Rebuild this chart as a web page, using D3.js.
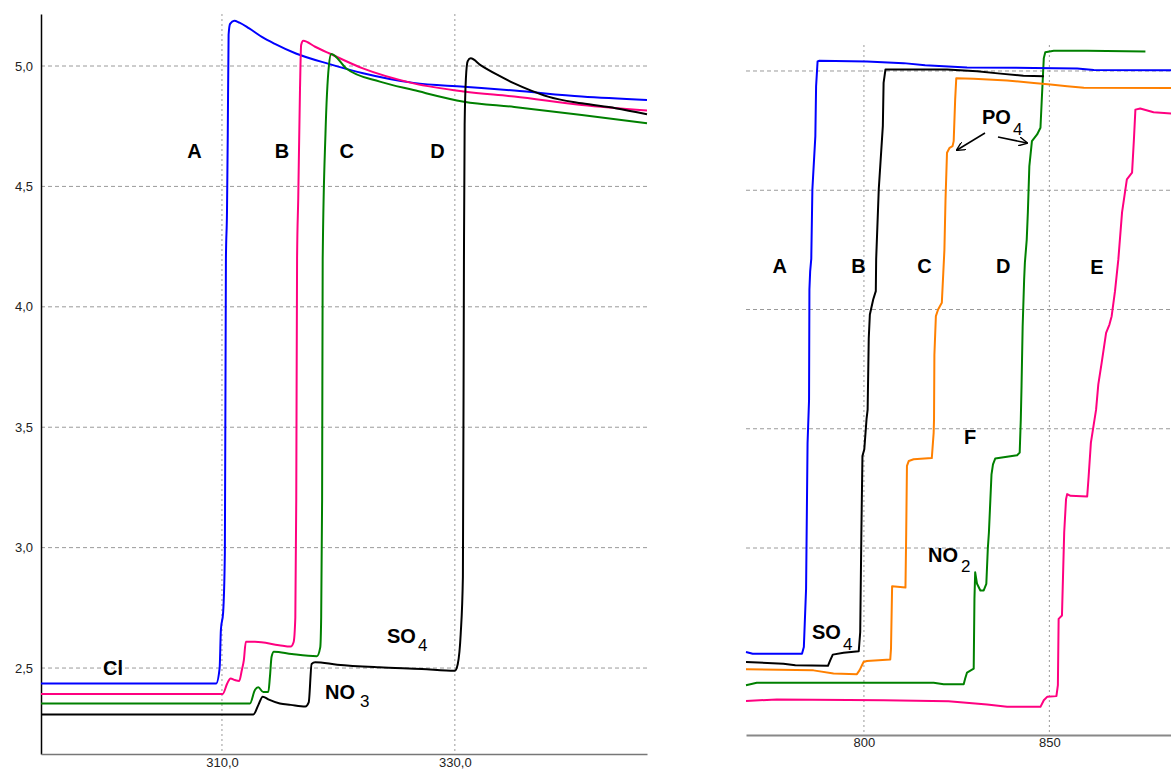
<!DOCTYPE html>
<html>
<head>
<meta charset="utf-8">
<script src="https://cdn.jsdelivr.net/npm/d3@7/dist/d3.min.js"></script>
<style>
  html, body { margin: 0; padding: 0; background: #fff; }
  svg { display: block; }
  .tick text { font-family: "Liberation Sans", Arial, sans-serif; font-size: 13px; fill: #222; }
  .lbl { font-family: "Liberation Sans", Arial, sans-serif; font-weight: bold; font-size: 20px; fill: #000; }
  .sub { font-family: "Liberation Sans", Arial, sans-serif; font-size: 17px; fill: #000; }
</style>
</head>
<body>
<svg id="chart" width="1171" height="769"></svg>
<script>
// ---------- Left panel data ----------
const leftYTicks = [2.5, 3.0, 3.5, 4.0, 4.5, 5.0];
const leftXTicks = [310, 330];
const leftA = [[294.46,2.436],[309.5,2.436],[309.8,2.50],[309.91,2.66],[310.1,2.73],[310.25,2.98],[310.34,4.2],[310.43,4.39],[310.5,4.72],[310.57,5.13],[310.7,5.175],[311.05,5.188],[311.5,5.18],[312.34,5.156],[313.46,5.12],[314.5,5.093],[316.35,5.052],[319.24,5.008],[322.12,4.97],[326.45,4.93],[330.78,4.914],[335.1,4.898],[340.9,4.873],[346.5,4.859]];
const leftB = [[294.46,2.392],[310.06,2.392],[310.45,2.436],[310.74,2.457],[311.11,2.45],[311.48,2.446],[311.7,2.49],[311.88,2.533],[312.05,2.609],[312.83,2.609],[314.9,2.595],[315.9,2.589],[316.15,2.607],[316.3,2.71],[316.38,3.2],[316.45,4.2],[316.55,4.45],[316.7,4.9],[316.8,5.087],[316.98,5.105],[318.0,5.08],[319.24,5.052],[322.1,4.99],[326.45,4.928],[330.78,4.894],[335.1,4.873],[340.9,4.838],[346.5,4.815]];
const leftC = [[294.46,2.353],[312.4,2.353],[312.83,2.409],[313.12,2.42],[313.55,2.40],[313.98,2.40],[314.12,2.464],[314.26,2.547],[314.46,2.568],[316.0,2.558],[318.15,2.549],[318.44,2.586],[318.52,2.711],[318.6,3.2],[318.65,4.196],[318.89,4.72],[319.18,5.0],[319.38,5.05],[320.68,4.99],[323.56,4.935],[326.45,4.9],[330.78,4.852],[335.1,4.83],[340.9,4.797],[346.5,4.762]];
const leftD = [[294.46,2.307],[312.7,2.307],[313.12,2.346],[313.5,2.381],[313.98,2.37],[314.97,2.353],[315.9,2.347],[317.16,2.34],[317.45,2.357],[317.7,2.517],[318.0,2.524],[319.9,2.514],[323.5,2.503],[327.16,2.496],[330.0,2.489],[330.25,2.517],[330.5,2.64],[330.69,2.878],[330.78,4.196],[330.84,4.755],[330.95,4.95],[331.1,5.02],[331.36,5.032],[332.2,5.004],[333.67,4.963],[335.1,4.928],[336.55,4.898],[338.0,4.873],[340.9,4.845],[343.8,4.825],[346.5,4.80]];

// ---------- Right panel data ----------
const rightYGrid = [3.0, 3.5, 4.0, 4.5, 5.0];
const rightXTicks = [800, 850];
const rightA = [[768.2,2.564],[770,2.557],[783.3,2.557],[783.8,2.585],[784.4,2.829],[784.8,3.44],[785.2,3.62],[785.3,4.084],[785.5,4.16],[785.8,4.212],[786.1,4.504],[786.9,4.727],[787.1,4.936],[787.5,5.04],[788,5.043],[800.8,5.04],[810.7,5.033],[816.5,5.024],[827.8,5.015],[845.8,5.013],[857.5,5.01],[862,5.004],[882.9,5.003]];
const rightB = [[768.2,2.522],[778.3,2.515],[781.5,2.508],[790.3,2.506],[790.9,2.529],[791.6,2.553],[794.5,2.561],[798.6,2.567],[799.0,2.648],[799.3,3.052],[799.6,3.386],[800.1,3.414],[800.7,3.54],[801.0,3.58],[801.3,3.88],[801.6,3.979],[802.5,4.042],[803.2,4.077],[803.3,4.212],[804.0,4.504],[805.1,4.77],[805.3,4.95],[805.8,5.006],[822.4,5.006],[830.5,4.999],[836.8,4.989],[843,4.98],[848.5,4.978]];
const rightC = [[768.2,2.492],[786.4,2.487],[791.8,2.474],[798.1,2.471],[798.8,2.487],[799.9,2.522],[800.8,2.526],[807.1,2.533],[807.3,2.578],[807.6,2.84],[811.2,2.834],[811.4,3.065],[811.6,3.344],[812.1,3.365],[813.4,3.372],[818.3,3.377],[818.8,3.483],[818.9,3.54],[819.0,3.81],[819.4,3.972],[820,4.0],[821,4.028],[821.4,4.154],[821.7,4.25],[822,4.462],[822.4,4.657],[823.1,4.678],[823.9,4.685],[824.2,4.706],[824.6,4.88],[824.9,4.97],[829.6,4.967],[838.6,4.96],[845.8,4.95],[850.3,4.943],[854.8,4.936],[859.3,4.93],[882.9,4.929]];
const rightD = [[768.2,2.425],[771.1,2.435],[818.8,2.435],[821.5,2.429],[826.9,2.429],[827.3,2.453],[827.8,2.478],[829.6,2.494],[829.8,2.787],[830,2.898],[830.5,2.85],[831.4,2.822],[832.3,2.822],[833,2.85],[833.4,2.996],[833.7,3.065],[834.1,3.205],[834.4,3.309],[834.8,3.351],[835.4,3.375],[841.3,3.389],[842,3.4],[842.3,3.54],[842.5,3.68],[842.8,3.93],[843.2,4.126],[843.4,4.196],[843.9,4.293],[844.2,4.407],[844.6,4.6],[845.3,4.706],[846.7,4.734],[847.6,4.762],[848,4.894],[848.5,5.054],[848.9,5.079],[851.2,5.085],[860.2,5.085],[875.9,5.082]];
const rightE = [[768.2,2.359],[776.5,2.365],[805.3,2.362],[822.8,2.358],[833.2,2.344],[838.6,2.334],[847.6,2.334],[848.5,2.362],[849.4,2.376],[851.9,2.379],[852.3,2.425],[852.5,2.703],[853.4,2.717],[854,3.065],[854.5,3.205],[854.8,3.226],[855.7,3.219],[860.2,3.216],[860.6,3.302],[861.2,3.442],[861.9,3.511],[862.6,3.58],[863.2,3.686],[864.1,3.776],[865.3,3.902],[866.2,3.937],[866.8,3.972],[867.7,4.077],[868.6,4.21],[869.6,4.407],[870.9,4.546],[872.3,4.574],[872.8,4.713],[873.2,4.838],[874.5,4.843],[878.1,4.827],[882.9,4.822]];

const colors = { blue: "#0000ff", pink: "#ff0080", green: "#008000", black: "#000000", orange: "#ff8000" };

const svg = d3.select("#chart");
const gridColor = "#9a9a9a";

// ---------- Left panel ----------
const xL = d3.scaleLinear().domain([294.46, 346.5]).range([41, 647]);
const yL = d3.scaleLinear().domain([2.143, 5.216]).range([754, 14]);
const gL = svg.append("g");

gL.selectAll("line.hg").data(leftYTicks).join("line")
  .attr("x1", 41).attr("x2", 647)
  .attr("y1", d => yL(d)).attr("y2", d => yL(d))
  .attr("stroke", gridColor).attr("stroke-dasharray", "4,3");
gL.selectAll("line.vg").data(leftXTicks).join("line")
  .attr("x1", d => xL(d)).attr("x2", d => xL(d))
  .attr("y1", 14).attr("y2", 754)
  .attr("stroke", gridColor).attr("stroke-dasharray", "2,3");

const axL = gL.append("g").attr("transform", "translate(41,0)")
  .call(d3.axisLeft(yL).tickValues(leftYTicks).tickSize(0).tickSizeOuter(0).tickPadding(8)
    .tickFormat(d => d.toFixed(1).replace(".", ",")));
axL.select(".domain").attr("stroke", "#000").attr("stroke-width", 1.5);

const axLB = gL.append("g").attr("transform", "translate(0,754)")
  .call(d3.axisBottom(xL).tickValues(leftXTicks).tickSize(0).tickSizeOuter(0).tickPadding(4)
    .tickFormat(d => d.toFixed(1).replace(".", ",")));
axLB.select(".domain").attr("stroke", "#777").attr("stroke-width", 1.5);

const lineL = d3.line().x(d => xL(d[0])).y(d => yL(d[1])).curve(d3.curveMonotoneX);
[[leftA, colors.blue], [leftB, colors.pink], [leftC, colors.green], [leftD, colors.black]].forEach(([data, c]) => {
  gL.append("path").datum(data).attr("d", lineL).attr("fill", "none")
    .attr("stroke", c).attr("stroke-width", 2).attr("stroke-linejoin", "round");
});

// ---------- Right panel ----------
const xR = d3.scaleLinear().domain([768.2, 882.8]).range([746, 1171]);
const yR = d3.scaleLinear().domain([2.216, 5.109]).range([735, 45]);
const gR = svg.append("g");

gR.selectAll("line.hg").data(rightYGrid).join("line")
  .attr("x1", 746).attr("x2", 1171)
  .attr("y1", d => yR(d)).attr("y2", d => yR(d))
  .attr("stroke", gridColor).attr("stroke-dasharray", "4,3");
gR.selectAll("line.vg").data(rightXTicks).join("line")
  .attr("x1", d => xR(d)).attr("x2", d => xR(d))
  .attr("y1", 45).attr("y2", 735)
  .attr("stroke", gridColor).attr("stroke-dasharray", "2,3");

const axRB = gR.append("g").attr("transform", "translate(0,735)")
  .call(d3.axisBottom(xR).tickValues(rightXTicks).tickSize(0).tickSizeOuter(0).tickPadding(3)
    .tickFormat(d => String(d)));
axRB.select(".domain").attr("stroke", "#888").attr("stroke-width", 2);

const lineR = d3.line().x(d => xR(d[0])).y(d => yR(d[1]));
[[rightE, colors.pink], [rightD, colors.green], [rightC, colors.orange], [rightB, colors.black], [rightA, colors.blue]].forEach(([data, c]) => {
  gR.append("path").datum(data).attr("d", lineR).attr("fill", "none")
    .attr("stroke", c).attr("stroke-width", 2).attr("stroke-linejoin", "round");
});

// ---------- Annotations ----------
function label(x, y, t, anchor) {
  svg.append("text").attr("class", "lbl").attr("x", x).attr("y", y)
    .attr("text-anchor", anchor || "middle").text(t);
}
function chem(x, y, main, sub, subDx, subDy) {
  const t = svg.append("text").attr("class", "lbl").attr("x", x).attr("y", y);
  t.append("tspan").text(main);
  t.append("tspan").attr("class", "sub").attr("dx", subDx).attr("dy", subDy)
    .style("font-weight", "normal").style("font-size", "17px").text(sub);
}
// left letters
label(194.5, 158, "A"); label(282, 158, "B"); label(346.7, 158, "C"); label(437.5, 158, "D");
label(103, 675, "Cl", "start");
chem(325, 699, "NO", "3", 5, 8);
chem(387, 643, "SO", "4", 2, 8);
// right letters
label(779.7, 273, "A"); label(858.5, 273, "B"); label(924.5, 273, "C"); label(1003.3, 273, "D"); label(1097, 274, "E");
label(970, 444, "F");
chem(928, 562, "NO", "2", 3, 10);
chem(812, 639, "SO", "4", 2, 11);
chem(982, 124, "PO", "4", 2, 11);

// PO4 arrows
const defs = svg.append("defs");
defs.append("marker").attr("id", "arr").attr("viewBox", "0 0 10 10").attr("refX", 9).attr("refY", 5)
  .attr("markerWidth", 9).attr("markerHeight", 9).attr("orient", "auto").attr("markerUnits", "userSpaceOnUse")
  .append("path").attr("d", "M0,0 L10,5 L0,10").attr("fill", "none").attr("stroke", "#000").attr("stroke-width", 1.5);
const arrows = [[985, 133, 957, 150], [998, 137, 1027, 143]];
svg.selectAll("line.arrow").data(arrows).join("line")
  .attr("x1", d => d[0]).attr("y1", d => d[1]).attr("x2", d => d[2]).attr("y2", d => d[3])
  .attr("stroke", "#000").attr("stroke-width", 1.5).attr("marker-end", "url(#arr)");
</script>
</body>
</html>
